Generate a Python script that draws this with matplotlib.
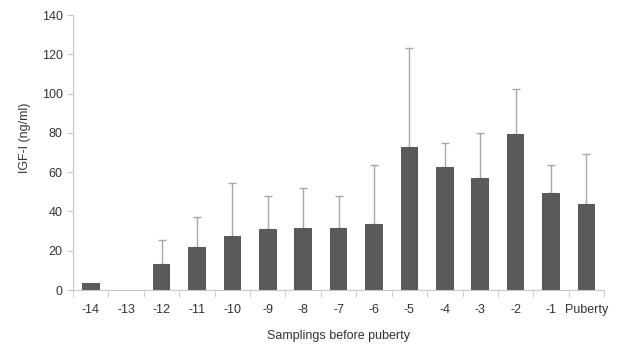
import numpy as np
import matplotlib
matplotlib.use("Agg")
import matplotlib.pyplot as plt

# valores
categorias = ["-14", "-13", "-12", "-11", "-10", "-9", "-8", "-7", "-6",
              "-5", "-4", "-3", "-2", "-1", "Puberty"]
medias = [3.5, 0, 13.2, 21.9, 27.5, 30.9, 31.7, 31.4, 33.6,
          72.8, 62.5, 57.2, 79.6, 49.2, 43.9]
topo_erro = [3.5, 0, 25.6, 37.2, 54.6, 48.0, 52.1, 48.0, 63.8,
             123.0, 74.8, 80.1, 102.5, 63.8, 69.4]

plt.rcParams['font.family'] = ['Liberation Sans', 'DejaVu Sans']
cinza_texto = "#333333"
cinza_eixo = "#c8c8c8"
tamanho = 9

fig = plt.figure(figsize=(6.19, 3.49), dpi=100)
ax = fig.add_axes([0.118, 0.169, 0.858, 0.788])

x = np.arange(len(categorias))
erro = np.array(topo_erro) - np.array(medias)
tem_erro = erro > 0
ax.bar(x, medias, width=0.5, color="#5a5a5a", zorder=2)
ax.errorbar(x[tem_erro], np.array(medias)[tem_erro],
            yerr=[np.zeros(tem_erro.sum()), erro[tem_erro]],
            fmt="none", ecolor="#a8a8a8", elinewidth=1, capsize=3, capthick=1, zorder=1)

ax.set_xlim(-0.5, len(categorias) - 0.5)
ax.set_ylim(0, 140)
ax.set_yticks(np.arange(0, 141, 20))
ax.set_xticks(x)
ax.set_xticklabels(categorias)
ax.set_xticks(np.arange(-0.5, len(categorias), 1), minor=True)
ax.tick_params(axis="x", which="major", length=0, pad=10, labelsize=tamanho, colors=cinza_texto)
ax.tick_params(axis="x", which="minor", length=5, color=cinza_eixo)
ax.tick_params(axis="y", length=4, labelsize=tamanho, colors=cinza_texto)
ax.tick_params(axis="y", color=cinza_eixo)

for lado in ["top", "right"]:
    ax.spines[lado].set_visible(False)
ax.spines["left"].set_color(cinza_eixo)
ax.spines["bottom"].set_color(cinza_eixo)

ax.set_xlabel("Samplings before puberty", fontsize=tamanho, color=cinza_texto, labelpad=10)
ax.set_ylabel("IGF-I (ng/ml)", fontsize=tamanho, color=cinza_texto)
ax.yaxis.set_label_coords(-0.079, 0.555)

fig.savefig("out.png", dpi=100)
